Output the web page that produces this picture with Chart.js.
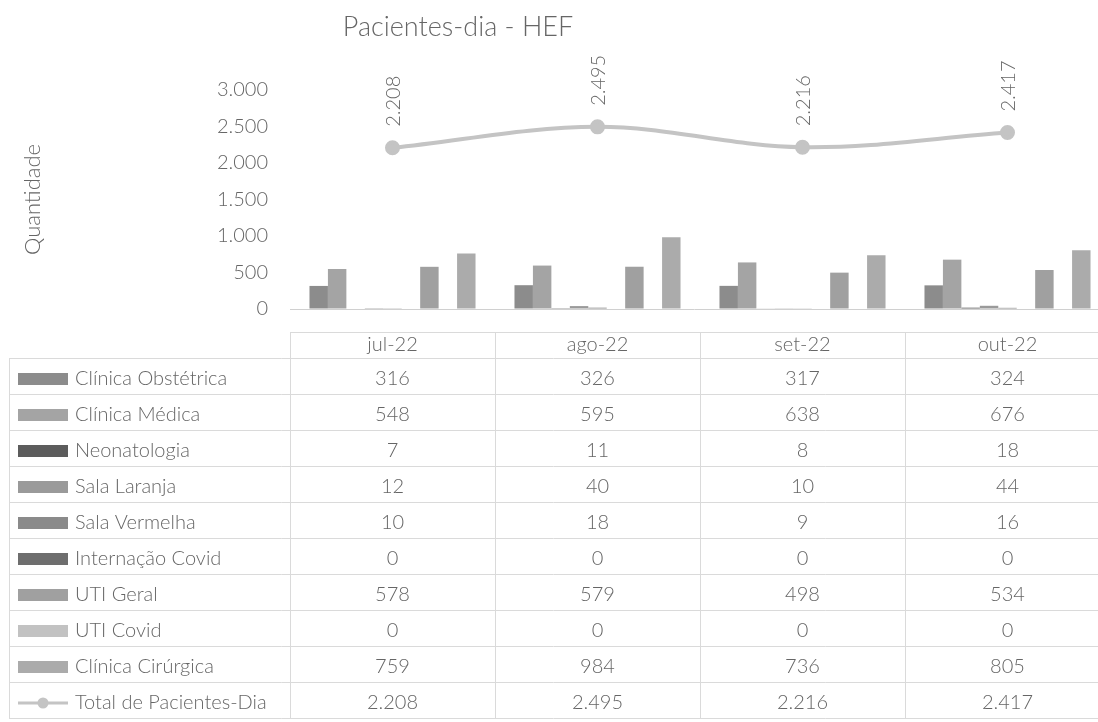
<!DOCTYPE html>
<html lang="pt-BR">
<head>
<meta charset="utf-8">
<title>Pacientes-dia - HEF</title>
<script src="https://cdn.jsdelivr.net/npm/chart.js@4.4.1/dist/chart.umd.min.js"></script>
<style>
  html, body { margin: 0; padding: 0; background: #ffffff; }
  #wrap { width: 1098px; height: 722px; position: relative; }
  canvas { display: block; }
</style>
</head>
<body>
<div id="wrap"><canvas id="chart" width="1098" height="722"></canvas></div>
<script>
// Meses
const months = ['jul-22', 'ago-22', 'set-22', 'out-22'];

// Pacientes-dia por unidade
const clinicaObstetrica = [316, 326, 317, 324];
const clinicaMedica     = [548, 595, 638, 676];
const neonatologia      = [7, 11, 8, 18];
const salaLaranja       = [12, 40, 10, 44];
const salaVermelha      = [10, 18, 9, 16];
const internacaoCovid   = [0, 0, 0, 0];
const utiGeral          = [578, 579, 498, 534];
const utiCovid          = [0, 0, 0, 0];
const clinicaCirurgica  = [759, 984, 736, 805];
const totalPacientesDia = [2208, 2495, 2216, 2417];

// Eixo vertical
const yTicks = [0, 500, 1000, 1500, 2000, 2500, 3000];

const unitNames = [
  'Clínica Obstétrica', 'Clínica Médica', 'Neonatologia', 'Sala Laranja',
  'Sala Vermelha', 'Internação Covid', 'UTI Geral', 'UTI Covid', 'Clínica Cirúrgica'
];
const unitValues = [
  clinicaObstetrica, clinicaMedica, neonatologia, salaLaranja,
  salaVermelha, internacaoCovid, utiGeral, utiCovid, clinicaCirurgica
];
const unitColors = [
  '#8c8c8c', '#a4a4a4', '#5c5c5c', '#9a9a9a',
  '#8a8a8a', '#6e6e6e', '#a0a0a0', '#c2c2c2', '#ababab'
];
const totalLabel = 'Total de Pacientes-Dia';
const lineColor = '#c4c4c4';

const FONT = 'Lato, "Open Sans", "Liberation Sans", sans-serif';
const TEXT = '#666666';
const RULE = '#dadada';

// número no formato pt-BR (ponto como separador de milhar)
function fmt(v) {
  return String(v).replace(/\B(?=(\d{3})+(?!\d))/g, '.');
}

const datasets = unitNames.map((name, i) => ({
  type: 'bar',
  label: name,
  data: unitValues[i],
  backgroundColor: unitColors[i],
  borderWidth: 0,
  order: 1,
  categoryPercentage: 0.81,
  barPercentage: 1.0
}));
datasets.push({
  type: 'line',
  label: totalLabel,
  data: totalPacientesDia,
  borderColor: lineColor,
  backgroundColor: lineColor,
  borderWidth: 4,
  tension: 0.35,
  pointRadius: 5.5,
  pointBackgroundColor: lineColor,
  pointBorderColor: lineColor,
  order: 0
});

// A área de plotagem continua além da borda direita da página
const plotWidth = {
  id: 'plotWidth',
  afterLayout(chart) {
    const s = chart.scales.x;
    const w = 820;
    s.right = s.left + w;
    s.width = w;
    chart.chartArea.right = s.right;
    chart.chartArea.width = w;
    s.configure();
  }
};

// Título do gráfico
const titlePlugin = {
  id: 'chartTitle',
  afterDraw(chart) {
    const ctx = chart.ctx;
    ctx.save();
    ctx.font = '300 27px ' + FONT;
    ctx.fillStyle = TEXT;
    ctx.textAlign = 'center';
    ctx.textBaseline = 'middle';
    ctx.fillText('Pacientes-dia - HEF', 458, 27);
    ctx.restore();
  }
};

// Rótulos verticais sobre os pontos da linha de total
const lineLabels = {
  id: 'lineLabels',
  afterDatasetsDraw(chart) {
    const ctx = chart.ctx;
    const idx = chart.data.datasets.length - 1;
    const meta = chart.getDatasetMeta(idx);
    const values = chart.data.datasets[idx].data;
    ctx.save();
    ctx.font = '300 20px ' + FONT;
    ctx.fillStyle = TEXT;
    meta.data.forEach((pt, i) => {
      ctx.save();
      ctx.translate(pt.x + 1, pt.y - 21);
      ctx.rotate(-Math.PI / 2);
      ctx.textAlign = 'left';
      ctx.textBaseline = 'middle';
      ctx.fillText(fmt(values[i]), 0, 0);
      ctx.restore();
    });
    ctx.restore();
  }
};

// Tabela de dados com legenda sob o gráfico
const dataTable = {
  id: 'dataTable',
  afterDraw(chart) {
    const ctx = chart.ctx;
    const x = chart.scales.x;
    const W = chart.width;
    const top = 332, headBottom = 358, rowH = 36, left = 9, textDy = 21;
    const nRows = unitNames.length + 1;
    const bottom = headBottom + rowH * nRows;
    const step = (x.right - x.left) / months.length;
    const bounds = [];
    for (let i = 0; i <= months.length; i++) bounds.push(x.left + step * i);

    ctx.save();
    ctx.strokeStyle = RULE;
    ctx.lineWidth = 1;
    ctx.beginPath();
    // borda superior do cabeçalho
    ctx.moveTo(bounds[0], top + 0.5); ctx.lineTo(W, top + 0.5);
    // linhas horizontais
    for (let r = 0; r <= nRows; r++) {
      const y = Math.round(headBottom + rowH * r) + 0.5;
      ctx.moveTo(left, y); ctx.lineTo(W, y);
    }
    // linhas verticais
    ctx.moveTo(left + 0.5, headBottom); ctx.lineTo(left + 0.5, bottom);
    bounds.forEach(b => {
      const bx = Math.round(b) + 0.5;
      ctx.moveTo(bx, top); ctx.lineTo(bx, bottom);
    });
    ctx.stroke();

    ctx.font = '300 20px ' + FONT;
    ctx.fillStyle = TEXT;
    ctx.textBaseline = 'middle';
    ctx.textAlign = 'center';
    // cabeçalho com os meses
    months.forEach((m, i) => {
      ctx.fillText(m, x.getPixelForValue(i), top + 13);
    });

    // linhas das unidades
    const keyX = 18, keyW = 50, keyH = 12, textX = 75;
    unitNames.forEach((name, r) => {
      const cy = headBottom + rowH * r + textDy;
      ctx.fillStyle = unitColors[r];
      ctx.fillRect(keyX, Math.round(cy - keyH / 2), keyW, keyH);
      ctx.fillStyle = TEXT;
      ctx.textAlign = 'left';
      ctx.fillText(name, textX, cy);
      ctx.textAlign = 'center';
      unitValues[r].forEach((v, i) => {
        ctx.fillText(fmt(v), x.getPixelForValue(i), cy);
      });
    });

    // linha do total
    const cy = headBottom + rowH * unitNames.length + textDy;
    ctx.strokeStyle = lineColor;
    ctx.lineWidth = 3;
    ctx.beginPath();
    ctx.moveTo(keyX, cy); ctx.lineTo(keyX + keyW, cy);
    ctx.stroke();
    ctx.fillStyle = lineColor;
    ctx.beginPath();
    ctx.arc(keyX + keyW / 2, cy, 5.5, 0, Math.PI * 2);
    ctx.fill();
    ctx.fillStyle = TEXT;
    ctx.textAlign = 'left';
    ctx.fillText(totalLabel, textX, cy);
    ctx.textAlign = 'center';
    totalPacientesDia.forEach((v, i) => {
      ctx.fillText(fmt(v), x.getPixelForValue(i), cy);
    });
    ctx.restore();
  }
};

new Chart(document.getElementById('chart'), {
  type: 'bar',
  data: { labels: months, datasets },
  options: {
    responsive: false,
    animation: false,
    devicePixelRatio: 1,
    layout: { padding: { top: 90, bottom: 413, left: 0, right: 0 } },
    plugins: {
      legend: { display: false },
      title: { display: false },
      tooltip: { enabled: false }
    },
    scales: {
      x: {
        type: 'category',
        offset: true,
        display: false
      },
      y: {
        min: yTicks[0],
        max: yTicks[yTicks.length - 1],
        afterBuildTicks(scale) {
          scale.ticks = yTicks.map(v => ({ value: v }));
        },
        afterFit(scale) { scale.width = 290; },
        border: { display: false },
        grid: {
          drawTicks: false,
          color: c => (c.tick && c.tick.value === 0 ? '#d0d0d0' : 'rgba(0,0,0,0)')
        },
        ticks: {
          padding: 22,
          color: TEXT,
          font: { family: FONT, size: 20, weight: '300' },
          callback: v => fmt(v)
        },
        title: {
          display: true,
          text: 'Quantidade',
          color: TEXT,
          font: { family: FONT, size: 22, weight: '300' },
          padding: { top: 20, bottom: 0 }
        }
      }
    }
  },
  plugins: [plotWidth, titlePlugin, lineLabels, dataTable]
});
</script>
</body>
</html>
